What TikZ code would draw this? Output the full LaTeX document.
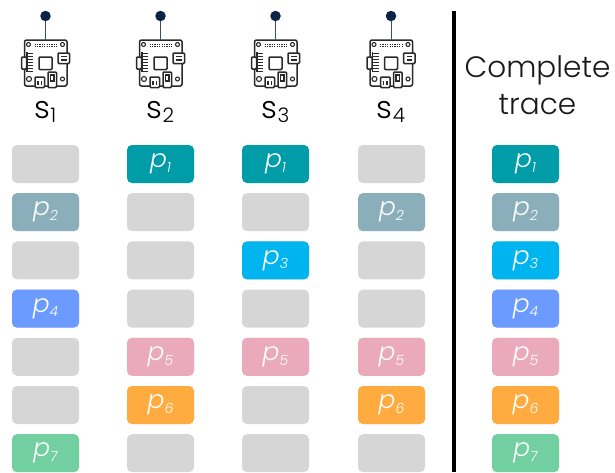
\documentclass[tikz,border=0pt]{standalone}
\usepackage{fontspec}
\setmainfont{Poppins Light}[ItalicFont={Poppins Light Italic}]
\usepackage{tikz}
\definecolor{slotgray}{HTML}{D6D6D6}
\definecolor{pOne}{HTML}{009CA8}
\definecolor{pTwo}{HTML}{8AAFBA}
\definecolor{pThree}{HTML}{00B4F0}
\definecolor{pFour}{HTML}{6C9BFF}
\definecolor{pFive}{HTML}{EBAABB}
\definecolor{pSix}{HTML}{FFAB40}
\definecolor{pSeven}{HTML}{72CFA0}
\definecolor{boardink}{HTML}{2A2A2A}
\definecolor{dotblue}{HTML}{0B2345}
\newcommand{\subnum}[2]{\raisebox{-4.5pt}{\fontsize{#1}{#1}\selectfont #2}}
\tikzset{
	slot/.style={draw=none, fill=slotgray, rounded corners=5pt, minimum width=67pt, minimum height=38pt, inner sep=0pt, text=white, font=\itshape\fontsize{25}{25}\selectfont},
	sensor/.style={font=\fontsize{31}{31}\selectfont, inner sep=0pt},
	title/.style={font=\fontsize{29.5}{37}\selectfont, align=center, inner sep=0pt, text=black!90},
	dot/.style={circle, fill=dotblue, minimum size=10.5pt, inner sep=0pt},
	chip/.style={draw=boardink, line width=1.5pt, fill=white, rounded corners=1pt},
	board/.pic={
		\draw[chip, rounded corners=2pt] (-21,-23) rectangle (21.5,23);
		\draw[boardink, line width=1.1pt] (-17,-18.5) circle (2pt) (17,-18.5) circle (2pt) (-16.5,16) circle (2.5pt) (17,16) circle (2pt);
		\draw[boardink, line width=1.5pt, dash pattern=on 1.2pt off 1.2pt] (-11,-18.5) -- (12,-18.5) (-11,-16.5) -- (12,-16.5);
		\draw[chip] (-24,-6) rectangle (-19,6);
		\draw[boardink, line width=1.2pt] (-18.5,-11) -- (-18.5,9);
		\foreach \y in {-10,-7,...,8}
			\draw[boardink, line width=.9pt] (-18.5,\y) -- (-12.5,\y);
		\draw[chip] (-6.5,-6) rectangle (6.5,6.5);
		\draw[chip] (12.5,-10) rectangle (24,0.5);
		\draw[boardink, line width=1.1pt] (15.5,-6.5) -- (21,-6.5) (15.5,-3) -- (21,-3);
		\draw[chip] (-10.5,14) rectangle (-1,24.5);
		\draw[boardink, line width=1.1pt] (-7.5,18) -- (-7.5,22) (-4,18) -- (-4,22);
		\draw[chip] (2.5,9) rectangle (11,24.5);
		\draw[boardink, line width=1.1pt] (5,12) rectangle (8.5,18);
	}
}
\begin{document}
\begin{tikzpicture}[x=1pt, y=-1pt]
\useasboundingbox (0, 0) rectangle (615, 472);

%sensors
\foreach \n/\x in {1/45.5, 2/160.5, 3/275.5, 4/391}{
	\node[dot] (dot\n) at (\x, 16) {};
	\coordinate (top\n) at (\x, 40);
	\pic at (\x, 63) {board};
	\draw[dotblue!80, line width=.7pt] (dot\n) -- (top\n);
	\node[sensor] (s\n) at (\x, 112) {s\subnum{20}{\n}};
}

%slots
\foreach \c/\x in {1/45.5, 2/160.5, 3/275.5, 4/391.5, 5/525.5}
	\foreach \r in {1, ..., 7}
		\node[slot] (c\c r\r) at (\x, {164 + 48.2*(\r - 1)}) {};

%filled slots
\foreach \c/\r/\col in {1/2/pTwo, 1/4/pFour, 1/7/pSeven, 2/1/pOne, 2/5/pFive, 2/6/pSix, 3/1/pOne, 3/3/pThree, 3/5/pFive, 4/2/pTwo, 4/5/pFive, 4/6/pSix, 5/1/pOne, 5/2/pTwo, 5/3/pThree, 5/4/pFour, 5/5/pFive, 5/6/pSix, 5/7/pSeven}
	\node[slot, fill=\col] at (c\c r\r) {p\subnum{14}{\r}};

%separator
\coordinate (sepTop) at (454, 11);
\coordinate (sepBot) at (454, 472);
\draw[black, line width=4pt] (sepTop) -- (sepBot);

\node[title] (trace) at (537.5, 85) {Complete\\trace};

\end{tikzpicture}
\end{document}
